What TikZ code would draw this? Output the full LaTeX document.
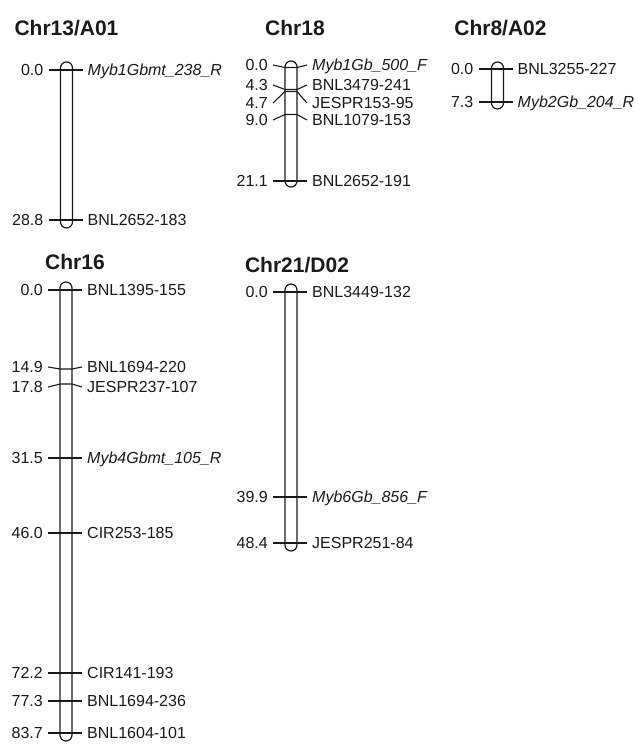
\documentclass[tikz,border=0pt]{standalone}
\usepackage{fontspec}
\setmainfont{Liberation Sans}
\usetikzlibrary{positioning}
\definecolor{MapInk}{HTML}{1A1A1A}

\begin{document}
\begin{tikzpicture}[x=1pt,y=-1pt,
    chrtitle/.style={font=\fontsize{21}{24}\selectfont\bfseries, text height=15pt, text depth=0pt, inner sep=0pt, MapInk},
    chrbar/.style={line width=1.2pt, rounded corners=6pt, MapInk},
    cmlbl/.style={anchor=east, font=\fontsize{16}{18}\selectfont, text height=11.5pt, text depth=0pt, inner ysep=0pt, inner xsep=5pt, MapInk},
    mklbl/.style={anchor=west, font=\fontsize{16}{18}\selectfont, text height=11.5pt, text depth=0pt, inner ysep=0pt, inner xsep=5pt, MapInk},
    tick/.style={line width=1.1pt, MapInk}]
  \useasboundingbox (0,0) rectangle (639,744);

  % Chr13/A01
  \begin{scope}[xshift=66.5pt]
    \node[chrtitle] (t13) at (0,28) {Chr13/A01};
    \draw[chrbar] (-6,62) rectangle (6,228);
    \foreach \yb/\yl/\cm/\mk [count=\i] in {70/70/0.0/\textit{Myb1Gbmt\_238\_R}, 220/220/28.8/BNL2652-183} {
      \node[cmlbl] (c13-\i) at (-18,\yl) {\cm};
      \node[mklbl] (m13-\i) at (16,\yl) {\mk};
      \coordinate (w13-\i) at (-6,\yb);
      \coordinate (e13-\i) at (6,\yb);
      \draw[tick] (c13-\i.east) -- (w13-\i) -- (e13-\i) -- (m13-\i.west);
    }
  \end{scope}

  % Chr18
  \begin{scope}[xshift=291pt]
    \node[chrtitle] (t18) at (4,28) {Chr18};
    \draw[chrbar] (-6,61) rectangle (6,187);
    \foreach \yb/\yl/\cm/\mk [count=\i] in {67.5/65/0.0/\textit{Myb1Gb\_500\_F}, 89.5/85/4.3/BNL3479-241,
        91.5/103/4.7/JESPR153-95, 114.5/120/9.0/BNL1079-153, 181/181/21.1/BNL2652-191} {
      \node[cmlbl] (c18-\i) at (-18,\yl) {\cm};
      \node[mklbl] (m18-\i) at (16,\yl) {\mk};
      \coordinate (w18-\i) at (-6,\yb);
      \coordinate (e18-\i) at (6,\yb);
      \draw[tick] (c18-\i.east) -- (w18-\i) -- (e18-\i) -- (m18-\i.west);
    }
  \end{scope}

  % Chr8/A02
  \begin{scope}[xshift=497.5pt]
    \node[chrtitle] (t8) at (3,28) {Chr8/A02};
    \draw[chrbar] (-6,62) rectangle (6,109);
    \foreach \yb/\yl/\cm/\mk [count=\i] in {69/69/0.0/BNL3255-227, 102/102/7.3/\textit{Myb2Gb\_204\_R}} {
      \node[cmlbl] (c8-\i) at (-19,\yl) {\cm};
      \node[mklbl] (m8-\i) at (15,\yl) {\mk};
      \coordinate (w8-\i) at (-6,\yb);
      \coordinate (e8-\i) at (6,\yb);
      \draw[tick] (c8-\i.east) -- (w8-\i) -- (e8-\i) -- (m8-\i.west);
    }
  \end{scope}

  % Chr16
  \begin{scope}[xshift=66pt]
    \node[chrtitle] (t16) at (9,262) {Chr16};
    \draw[chrbar] (-6,282) rectangle (6,741);
    \foreach \yb/\yl/\cm/\mk [count=\i] in {290/290/0.0/BNL1395-155, 369/367/14.9/BNL1694-220,
        384/387/17.8/JESPR237-107, 458/458/31.5/\textit{Myb4Gbmt\_105\_R}, 533/533/46.0/CIR253-185,
        673/673/72.2/CIR141-193, 701/701/77.3/BNL1694-236, 733/733/83.7/BNL1604-101} {
      \node[cmlbl] (c16-\i) at (-18,\yl) {\cm};
      \node[mklbl] (m16-\i) at (16,\yl) {\mk};
      \coordinate (w16-\i) at (-6,\yb);
      \coordinate (e16-\i) at (6,\yb);
      \draw[tick] (c16-\i.east) -- (w16-\i) -- (e16-\i) -- (m16-\i.west);
    }
  \end{scope}

  % Chr21/D02
  \begin{scope}[xshift=291pt]
    \node[chrtitle] (t21) at (6,265) {Chr21/D02};
    \draw[chrbar] (-6,284) rectangle (6,551);
    \foreach \yb/\yl/\cm/\mk [count=\i] in {292/292/0.0/BNL3449-132, 497/497/39.9/\textit{Myb6Gb\_856\_F},
        543/543/48.4/JESPR251-84} {
      \node[cmlbl] (c21-\i) at (-18,\yl) {\cm};
      \node[mklbl] (m21-\i) at (16,\yl) {\mk};
      \coordinate (w21-\i) at (-6,\yb);
      \coordinate (e21-\i) at (6,\yb);
      \draw[tick] (c21-\i.east) -- (w21-\i) -- (e21-\i) -- (m21-\i.west);
    }
  \end{scope}
\end{tikzpicture}
\end{document}
